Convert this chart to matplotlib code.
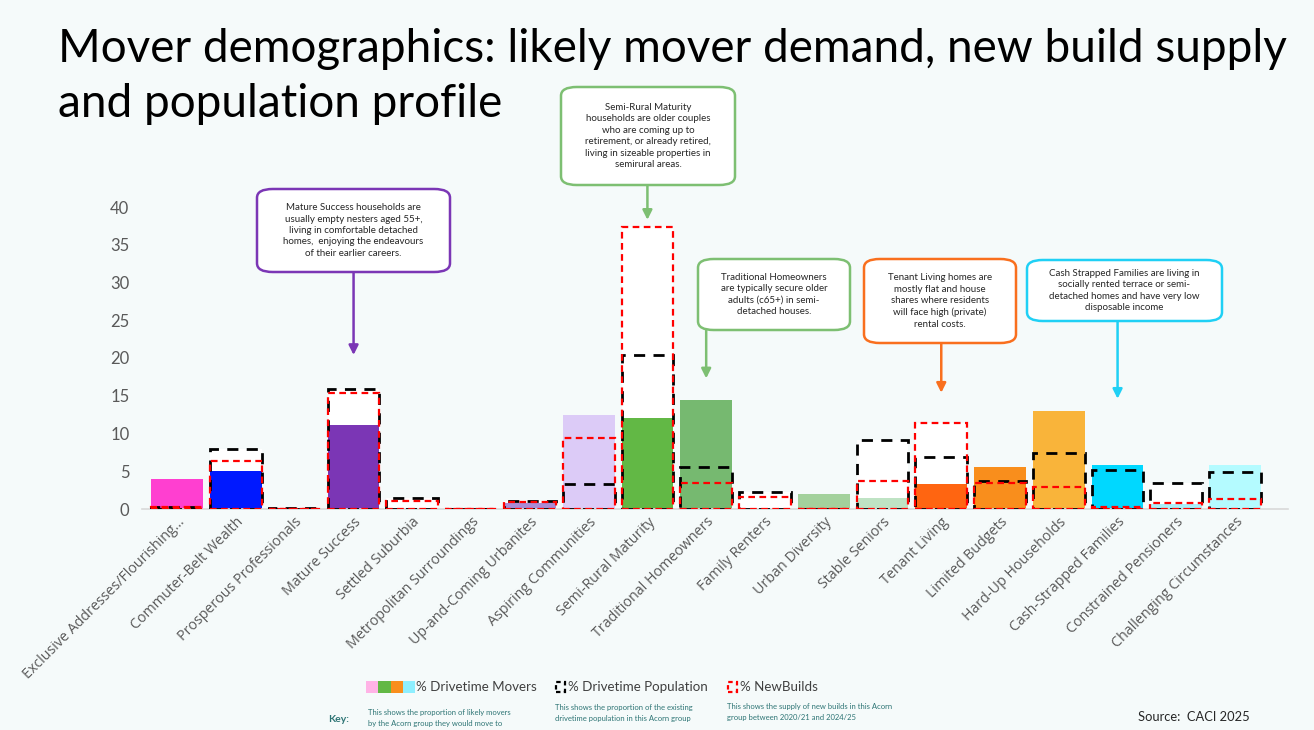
import matplotlib
matplotlib.use("Agg")
import matplotlib.pyplot as plt
from matplotlib.patches import FancyBboxPatch, Rectangle
import numpy as np

categories = ["Exclusive Addresses/Flourishing…", "Commuter-Belt Wealth",
              "Prosperous Professionals", "Mature Success", "Settled Suburbia",
              "Metropolitan Surroundings", "Up-and-Coming Urbanites",
              "Aspiring Communities", "Semi-Rural Maturity",
              "Traditional Homeowners", "Family Renters", "Urban Diversity",
              "Stable Seniors", "Tenant Living", "Limited Budgets",
              "Hard-Up Households", "Cash-Strapped Families",
              "Constrained Pensioners", "Challenging Circumstances"]
movers = [4.0, 5.0, 0.0, 11.1, 0.0, 0.0, 0.8, 12.45, 12.1, 14.4, 0.0, 1.95,
          1.5, 3.3, 5.6, 13.0, 5.8, 0.6, 5.8]
population = [0.3, 8.0, 0.1, 15.85, 1.4, 0.0, 1.1, 3.3, 20.4, 5.6, 2.3, 0.0,
              9.1, 6.9, 3.7, 7.4, 5.1, 3.5, 4.95]
newbuilds = [0.2, 6.35, 0.0, 15.3, 1.05, 0.0, 0.9, 9.45, 37.3, 3.5, 1.6, 0.0,
             3.7, 11.4, 3.5, 2.95, 0.2, 0.75, 1.3]
mover_colors = ["#FF3FD0", "#0019FF", "#FFFFFF", "#7B36B5", "#FFFFFF",
                "#FFFFFF", "#A98BD6", "#DCCBF7", "#62B845", "#76B970",
                "#FFFFFF", "#A3D19C", "#BFE3C4", "#FF6511", "#F98E1C",
                "#F9B43A", "#00D8FF", "#A8F0FA", "#B4FBFF"]

BG = "#F5FAFA"
W, H = 1314, 730

plt.rcParams['font.family'] = ['Lato', 'DejaVu Sans']

fig = plt.figure(figsize=(W / 100, H / 100), dpi=100)
fig.patch.set_facecolor(BG)


def fx(px):
    return px / W


def fy(py):
    return 1 - py / H


ax = fig.add_axes([fx(142), fy(509), fx(1288) - fx(142), fy(207) - fy(509)])
ax.set_facecolor(BG)

x = np.arange(len(categories))
bw = 0.88

# white backing for the outline boxes
top = np.maximum(population, newbuilds)
ax.bar(x, top, width=bw, color="white", edgecolor="none", zorder=1)
ax.bar(x, movers, width=bw, color=mover_colors, edgecolor="none", zorder=2)
ax.bar(x, population, width=bw, facecolor="none", edgecolor="black",
       linestyle=(0, (4, 3)), linewidth=2.0, zorder=3)
ax.bar(x, newbuilds, width=bw, facecolor="none", edgecolor="#FF0000",
       linestyle=(0, (3, 2)), linewidth=1.6, zorder=4)

ax.set_xlim(-0.6, 18.9)
ax.set_ylim(0, 40)
for s in ["top", "right", "left"]:
    ax.spines[s].set_visible(False)
ax.spines["bottom"].set_color("#D9D9D9")
ax.spines["bottom"].set_linewidth(1.2)
ax.set_yticks(np.arange(0, 41, 5))
ax.tick_params(axis="y", length=0, pad=9, labelsize=12, labelcolor="#595959")
ax.tick_params(axis="x", length=0, pad=4)
ax.set_xticks(x)
ax.set_xticklabels(categories, rotation=45, ha="right", rotation_mode="anchor",
                   fontsize=10.3, color="#595959", family=["Open Sans", "DejaVu Sans"])

# title
fig.text(fx(58), fy(62), "Mover demographics: likely mover demand, new build supply",
         fontsize=33, color="black", va="baseline", ha="left")
fig.text(fx(58), fy(117), "and population profile",
         fontsize=33, color="black", va="baseline", ha="left")

# annotation boxes: (left, top, right, bottom) in px, colour, text, arrow x index, tip value
notes = [
    ((257, 189, 450, 272), "#7B36B5",
     "Mature Success households are\nusually empty nesters aged 55+,\nliving in comfortable detached\nhomes,  enjoying the endeavours\nof their earlier careers.", 3, 20.4),
    ((561, 87, 735, 185), "#7DBF72",
     "Semi-Rural Maturity\nhouseholds are older couples\nwho are coming up to\nretirement, or already retired,\nliving in sizeable properties in\nsemirural areas.", 8, 38.3),
    ((698, 259, 850, 330), "#7DBF72",
     "Traditional Homeowners\nare typically secure older\nadults (c65+) in semi-\ndetached houses.", 9, 17.3),
    ((864, 259, 1016, 343), "#F96F1E",
     "Tenant Living homes are\nmostly flat and house\nshares where residents\nwill face high (private)\nrental costs.", 13, 15.4),
    ((1027, 260, 1222, 321), "#1FD0F5",
     "Cash Strapped Families are living in\nsocially rented terrace or semi-\ndetached homes and have very low\ndisposable income", 16, 14.6),
]
for (l, t, r, b), col, txt, idx, tip in notes:
    box = FancyBboxPatch((fx(l), fy(b)), fx(r) - fx(l), fy(t) - fy(b),
                         boxstyle="round,pad=0,rounding_size=0.012",
                         transform=fig.transFigure, facecolor="white",
                         edgecolor=col, linewidth=1.8, zorder=5)
    fig.patches.append(box)
    fig.text(fx((l + r) / 2), fy((t + b) / 2), txt, ha="center", va="center",
             fontsize=7, color="#262626", linespacing=1.35, zorder=6)
    # arrow from bottom of box down to the bar
    btm_data = ax.transData.inverted().transform(
        fig.transFigure.transform((0, fy(b))))[1]
    ax.annotate("", xy=(idx, tip), xytext=(idx, btm_data),
                arrowprops=dict(arrowstyle="-|>", color=col, lw=1.8,
                                mutation_scale=14, shrinkA=0, shrinkB=0),
                annotation_clip=False, zorder=6)

# key
legend_cols = ["#FFB3E6", "#62B845", "#F98E1C", "#8EEFFF"]
for i, c in enumerate(legend_cols):
    fig.patches.append(Rectangle((fx(366 + i * 12.3), fy(693)), fx(12.3), fy(681) - fy(693),
                                 transform=fig.transFigure, facecolor=c, edgecolor="none"))
fig.text(fx(416), fy(687), "% Drivetime Movers", fontsize=9.6, color="#404040", va="center")
fig.patches.append(Rectangle((fx(556), fy(692)), fx(9), fy(682) - fy(692),
                             transform=fig.transFigure, facecolor="none", edgecolor="black",
                             linestyle=(0, (2, 1.5)), linewidth=1.6))
fig.text(fx(568), fy(687), "% Drivetime Population", fontsize=9.6, color="#404040", va="center")
fig.patches.append(Rectangle((fx(728), fy(692)), fx(9), fy(682) - fy(692),
                             transform=fig.transFigure, facecolor="none", edgecolor="red",
                             linestyle=(0, (2, 1.5)), linewidth=1.6))
fig.text(fx(740), fy(687), "% NewBuilds", fontsize=9.6, color="#404040", va="center")

teal = "#2E7575"
fig.text(fx(328), fy(719), "Key:", fontsize=7.5, color=teal, weight="bold", va="center")
fig.text(fx(368), fy(718), "This shows the proportion of likely movers\nby the Acorn group they would move to",
         fontsize=5.5, color=teal, va="center", linespacing=1.6)
fig.text(fx(555), fy(713), "This shows the proportion of the existing\ndrivetime population in this Acorn group",
         fontsize=5.5, color=teal, va="center", linespacing=1.6)
fig.text(fx(727), fy(712), "This shows the supply of new builds in this Acorn\ngroup between 2020/21 and 2024/25",
         fontsize=5.5, color=teal, va="center", linespacing=1.6)
fig.text(fx(1138), fy(717), "Source:  CACI 2025", fontsize=9.3, color="#262626", va="center")

fig.savefig("out.png", dpi=100, facecolor=BG)
